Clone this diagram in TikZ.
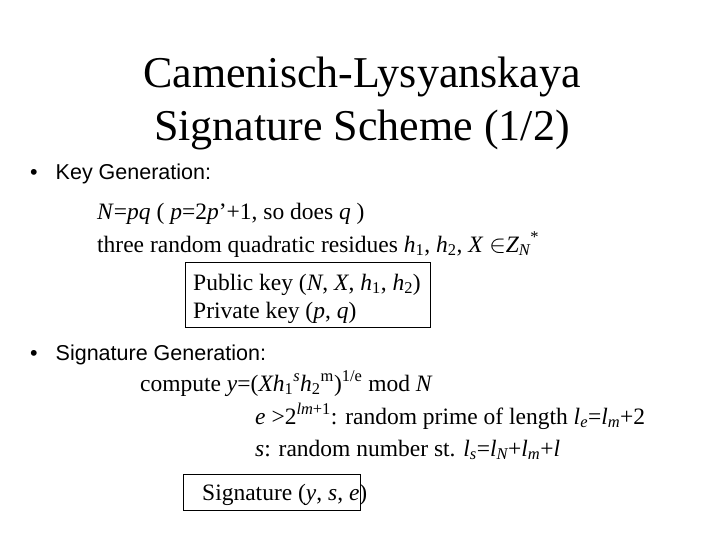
\documentclass[tikz,border=0pt]{standalone}
\usepackage{fontspec}
\setmainfont{Liberation Serif}
\newfontfamily\arialf{Liberation Sans}
\newcommand{\sbs}[1]{\textsubscript{#1}}
\newcommand{\sps}[1]{\textsuperscript{#1}}
\begin{document}
\begin{tikzpicture}[x=1pt,y=-1pt,
  txt/.style={anchor=base west,inner sep=0pt,font=\fontsize{23.5}{26}\selectfont},
  sans/.style={anchor=base west,inner sep=0pt,font=\arialf\fontsize{21.5}{24}\selectfont},
  ttl/.style={anchor=base,inner sep=0pt,font=\fontsize{44}{50}\selectfont},
  keybox/.style={draw,line width=1pt}]
\useasboundingbox (0,0) rectangle (720,540);
\node[ttl] (t1) at (362,88) {Camenisch-Lysyanskaya};
\node[ttl] (t2) at (362,141) {Signature Scheme (1/2)};
\node[sans] (b1) at (30,180) {•\hspace{18pt}Key Generation:};
\node[txt] (l1) at (97,219) {\textit{N}=\textit{pq} ( \textit{p}=2\textit{p}’+1, so does \textit{q} )};
\node[txt] (l2) at (97,252) {three random quadratic residues \textit{h}\sbs{1}, \textit{h}\sbs{2}, \textit{X} $\in$\textit{Z\sbs{N}}\sps{*}};
\draw[keybox] (185,262) rectangle (430,327);
\node[txt] (p1) at (193,290) {Public key (\textit{N}, \textit{X}, \textit{h}\sbs{1}, \textit{h}\sbs{2})};
\node[txt] (p2) at (193,318) {Private key (\textit{p}, \textit{q})};
\node[sans] (b2) at (30,360) {•\hspace{18pt}Signature Generation:};
\node[txt] (c1) at (140,391) {compute \textit{y}=(\textit{Xh}\sbs{1}\sps{\textit{s}}\textit{h}\sbs{2}\sps{m})\sps{1/e} mod \textit{N}};
\node[txt] (c2) at (255,424) {\textit{e} >2\sps{\textit{lm}+1}: random prime of length \textit{l\sbs{e}}=\textit{l\sbs{m}}+2};
\node[txt] (c3) at (255,456) {\textit{s}: random number st. \textit{l\sbs{s}}=\textit{l\sbs{N}}+\textit{l\sbs{m}}+\textit{l}};
\draw[keybox] (183,474) rectangle (360,510);
\node[txt] (sg) at (202,500) {Signature (\textit{y}, \textit{s}, \textit{e})};
\end{tikzpicture}
\end{document}
